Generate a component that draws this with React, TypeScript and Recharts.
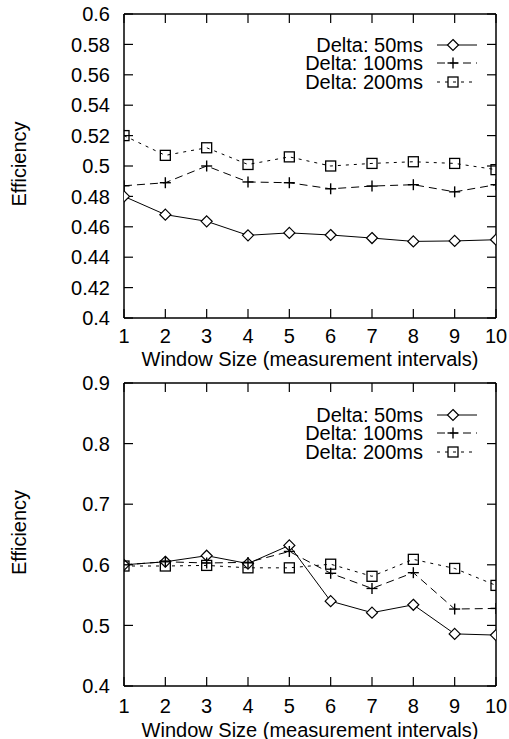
import React from 'react';
import { LineChart, Line, XAxis, YAxis, Legend } from 'recharts';

// ---------- data ----------
const windowSizes = [1, 2, 3, 4, 5, 6, 7, 8, 9, 10];
const seriesNames = ['Delta: 50ms', 'Delta: 100ms', 'Delta: 200ms'];

const topDelta50 = [0.48, 0.468, 0.4636, 0.4544, 0.456, 0.4546, 0.4526, 0.4504, 0.4507, 0.4515];
const topDelta100 = [0.487, 0.489, 0.5, 0.4895, 0.489, 0.485, 0.4868, 0.4877, 0.483, 0.4877];
const topDelta200 = [0.52, 0.507, 0.512, 0.501, 0.506, 0.5, 0.5017, 0.5028, 0.5017, 0.4976];
const topYTicks = [0.4, 0.42, 0.44, 0.46, 0.48, 0.5, 0.52, 0.54, 0.56, 0.58, 0.6];

const bottomDelta50 = [0.6, 0.605, 0.615, 0.602, 0.632, 0.54, 0.521, 0.534, 0.486, 0.484];
const bottomDelta100 = [0.6, 0.605, 0.603, 0.604, 0.622, 0.586, 0.561, 0.587, 0.527, 0.528];
const bottomDelta200 = [0.598, 0.598, 0.599, 0.595, 0.595, 0.601, 0.581, 0.609, 0.594, 0.566];
const bottomYTicks = [0.4, 0.5, 0.6, 0.7, 0.8, 0.9];

const xLabel = 'Window Size (measurement intervals)';
const yLabel = 'Efficiency';

// ---------- styling ----------
const FONT = '"Liberation Sans", Arial, Helvetica, sans-serif';
const FS = 20;
const seriesStyle = [
  { key: 'd50', kind: 'diamond', dash: undefined as string | undefined },
  { key: 'd100', kind: 'plus', dash: '8 5' },
  { key: 'd200', kind: 'square', dash: '3 5' },
];

function Marker({ kind, cx, cy }: { kind: string; cx: number; cy: number }) {
  if (cx == null || cy == null) return <g />;
  if (kind === 'diamond') {
    const r = 5.5;
    return (
      <polygon
        points={`${cx},${cy - r} ${cx + r},${cy} ${cx},${cy + r} ${cx - r},${cy}`}
        fill="#fff"
        stroke="#000"
        strokeWidth={1.2}
      />
    );
  }
  if (kind === 'plus') {
    const r = 5.5;
    return (
      <g stroke="#000" strokeWidth={1.4}>
        <line x1={cx - r} y1={cy} x2={cx + r} y2={cy} />
        <line x1={cx} y1={cy - r} x2={cx} y2={cy + r} />
      </g>
    );
  }
  return <rect x={cx - 5} y={cy - 5} width={10} height={10} fill="none" stroke="#000" strokeWidth={1.3} />;
}

const ROW_H = 18.3;

const LegendBox = () => (
  <div style={{ fontFamily: FONT, fontSize: FS, color: '#000' }}>
    {seriesNames.map((name, i) => (
      <div
        key={name}
        style={{
          display: 'flex',
          justifyContent: 'flex-end',
          alignItems: 'center',
          height: ROW_H,
          lineHeight: `${ROW_H}px`,
        }}
      >
        <span style={{ display: 'block', whiteSpace: 'nowrap', height: ROW_H, lineHeight: `${ROW_H}px`, overflow: 'visible' }}>
          {name}
        </span>
        <svg width={44} height={18} style={{ marginLeft: 11, display: 'block', overflow: 'visible' }}>
          <line x1={3} y1={9} x2={43} y2={9} stroke="#000" strokeWidth={1} strokeDasharray={seriesStyle[i].dash} />
          <Marker kind={seriesStyle[i].kind} cx={19} cy={9} />
        </svg>
      </div>
    ))}
  </div>
);

const YLabel = (props: any) => {
  const vb = props.viewBox || { x: 0, y: 0, width: 0, height: 0 };
  const x = vb.x + 19;
  const y = vb.y + vb.height / 2 - 2;
  return (
    <text
      x={x}
      y={y}
      transform={`rotate(-90, ${x}, ${y})`}
      textAnchor="middle"
      dominantBaseline="central"
      fill="#000"
      fontSize={FS}
      fontFamily={FONT}
    >
      {yLabel}
    </text>
  );
};

type PanelProps = {
  a: number[];
  b: number[];
  c: number[];
  yTicks: number[];
  height: number;
  marginTop: number;
  xAxisHeight: number;
  xTickMargin: number;
  xLabelOffset: number;
};

function Panel({ a, b, c, yTicks, height, marginTop, xAxisHeight, xTickMargin, xLabelOffset }: PanelProps) {
  const data = windowSizes.map((x, i) => ({ x, d50: a[i], d100: b[i], d200: c[i] }));
  const yDomain = [yTicks[0], yTicks[yTicks.length - 1]];
  const tickStyle = { fill: '#000', fontSize: FS, fontFamily: FONT };
  const axisLine = { stroke: '#000', strokeWidth: 1.5 };
  const tickLine = { stroke: '#000', strokeWidth: 1.2 };
  return (
    <LineChart
      width={509}
      height={height}
      data={data}
      margin={{ top: marginTop, right: 12, bottom: 0, left: 0 }}
    >
      <XAxis
        dataKey="x"
        type="number"
        domain={[1, 10]}
        ticks={windowSizes}
        interval={0}
        height={xAxisHeight}
        tickSize={-9}
        tickMargin={xTickMargin}
        tick={tickStyle}
        axisLine={axisLine}
        tickLine={tickLine}
        allowDataOverflow
        label={{ value: xLabel, position: 'insideBottom', offset: xLabelOffset, fill: '#000', fontSize: FS, fontFamily: FONT }}
      />
      <XAxis
        xAxisId="top"
        orientation="top"
        dataKey="x"
        type="number"
        domain={[1, 10]}
        ticks={windowSizes}
        interval={0}
        height={1}
        tickSize={-9}
        tickFormatter={() => ''}
        axisLine={axisLine}
        tickLine={tickLine}
        allowDataOverflow
      />
      <YAxis
        type="number"
        domain={yDomain}
        ticks={yTicks}
        interval={0}
        width={124}
        tickSize={-9}
        tickMargin={23}
        tick={tickStyle}
        tickFormatter={(v: number) => String(v)}
        axisLine={axisLine}
        tickLine={tickLine}
        allowDataOverflow
        label={{ content: YLabel }}
      />
      <YAxis
        yAxisId="right"
        orientation="right"
        type="number"
        domain={yDomain}
        ticks={yTicks}
        interval={0}
        width={1}
        tickSize={-9}
        tickFormatter={() => ''}
        axisLine={axisLine}
        tickLine={tickLine}
        allowDataOverflow
      />
      {seriesStyle.map((s, i) => (
        <Line
          key={s.key}
          name={seriesNames[i]}
          dataKey={s.key}
          type="linear"
          stroke="#000"
          strokeWidth={1}
          strokeDasharray={s.dash}
          isAnimationActive={false}
          dot={(p: any) => <Marker key={`${s.key}-${p.index}`} kind={s.kind} cx={p.cx} cy={p.cy} />}
          activeDot={false}
        />
      ))}
      <Legend
        layout="horizontal"
        verticalAlign="middle"
        align="center"
        wrapperStyle={{ top: 36, left: 0, width: 478, height: 'auto' }}
        content={() => <LegendBox />}
      />
    </LineChart>
  );
}

export default function App() {
  return (
    <div style={{ position: 'absolute', left: 0, top: 0, width: 509, height: 739, background: '#fff' }}>
      <Panel
        a={topDelta50}
        b={topDelta100}
        c={topDelta200}
        yTicks={topYTicks}
        height={370}
        marginTop={13}
        xAxisHeight={52}
        xTickMargin={20}
        xLabelOffset={4.5}
      />
      <Panel
        a={bottomDelta50}
        b={bottomDelta100}
        c={bottomDelta200}
        yTicks={bottomYTicks}
        height={369}
        marginTop={12}
        xAxisHeight={53}
        xTickMargin={22}
        xLabelOffset={2.5}
      />
    </div>
  );
}
